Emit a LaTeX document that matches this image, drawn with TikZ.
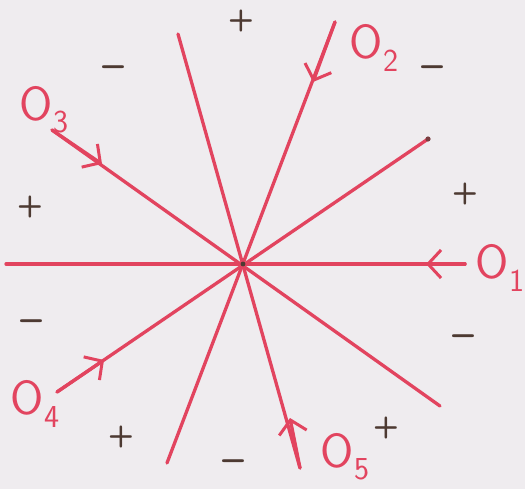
\documentclass[tikz,border=0pt]{standalone}
\usepackage{tikz}
\usetikzlibrary{arrows.meta}
\definecolor{paper}{HTML}{EFECEF}
\definecolor{redink}{HTML}{E2445F}
\definecolor{pencil}{HTML}{4D3A32}
\newcommand{\olab}[1]{O\raisebox{-0.6ex}{\fontsize{32}{32}\selectfont #1}}

\begin{document}
\begin{tikzpicture}[x=1pt,y=-1pt,
    ray/.style={redink,line width=3.3pt,line cap=round},
    toward/.style={ray,-{Straight Barb[length=13pt,width=28pt,line width=3pt]}},
    olabel/.style={redink,font=\fontsize{48}{48}\sffamily\selectfont,inner sep=0pt},
    sign/.style={pencil,font=\fontsize{30}{30}\bfseries\sffamily\selectfont,inner sep=0pt},
    minus/.style={pencil,font=\fontsize{40}{40}\bfseries\sffamily\selectfont,inner sep=0pt}]
      \fill[paper] (0,0) rectangle (525,489);
      \useasboundingbox (0,0) rectangle (525,489);
      % centre and ends of the rays
      \coordinate (c) at (243,264);
      \coordinate (e1) at (465,264);
      \coordinate (w1) at (6,264);
      \coordinate (e2) at (335,22);
      \coordinate (w2) at (167,463);
      \coordinate (e3) at (52,130);
      \coordinate (w3) at (440,406);
      \coordinate (e4) at (57,392);
      \coordinate (w4) at (428,139);
      \coordinate (e5) at (300,468);
      \coordinate (w5) at (178,34);
      \coordinate (a1) at (426,264);
      \coordinate (a2) at (313,82);
      \coordinate (a3) at (102,164);
      \coordinate (a4) at (104,360);
      \coordinate (a5) at (290,418);
      \draw[ray] (w1)--(e1);
      \draw[ray] (w2)--(e2);
      \draw[ray] (w3)--(e3);
      \draw[ray] (w4)--(e4);
      \draw[ray] (w5)--(e5);
      \draw[toward] (e1)--(a1);
      \draw[toward] (e2)--(a2);
      \draw[toward] (e3)--(a3);
      \draw[toward] (e4)--(a4);
      \draw[toward] (e5)--(a5);
      \fill[pencil] (c) circle (2.4pt);
      \fill[pencil!70!redink] (w4) circle (2.6pt);
      % labels
      \node[olabel] (o1) at (500,268) {\olab{1}};
      \node[olabel] (o2) at (374,48) {\olab{2}};
      \node[olabel] (o3) at (44,110) {\olab{3}};
      \node[olabel] (o4) at (35,404) {\olab{4}};
      \node[olabel] (o5) at (345,457) {\olab{5}};
      % signs
      \node[sign] (p1) at (241,21) {+};
      \node[minus] (m1) at (113,72) {--};
      \node[minus] (m2) at (432,72) {--};
      \node[sign] (p2) at (465,194) {+};
      \node[sign] (p3) at (30,207) {+};
      \node[minus] (m3) at (31,326) {--};
      \node[minus] (m4) at (463,341) {--};
      \node[sign] (p4) at (121,437) {+};
      \node[minus] (m5) at (233,466) {--};
      \node[sign] (p5) at (386,428) {+};
    \end{tikzpicture}
\end{document}
